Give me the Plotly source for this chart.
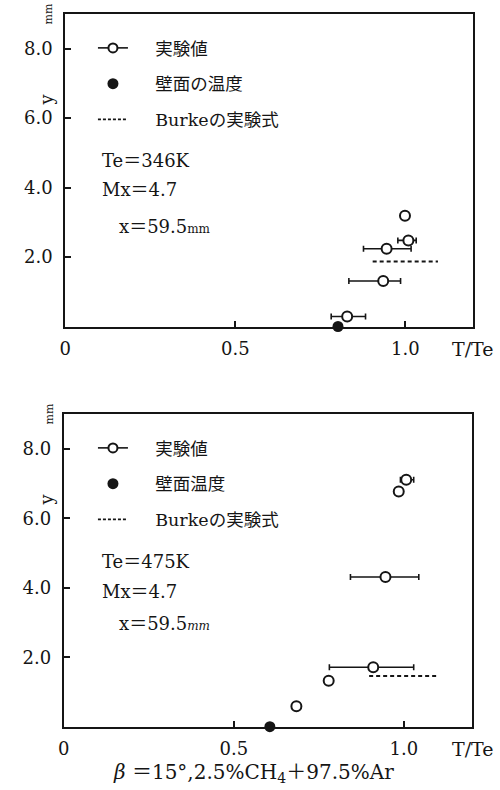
import plotly.graph_objects as go

# ---------------- data ----------------
# top panel (Te = 346K)
top_x = [0.829, 0.935, 0.945, 1.009, 0.999]
top_y = [0.29, 1.31, 2.24, 2.48, 3.19]
top_lo = [0.782, 0.834, 0.877, 0.978, None]
top_hi = [0.883, 0.986, 1.017, 1.032, None]
top_wall_x = [0.802]
top_wall_y = [0.0]
top_burke_x = [0.904, 1.096]
top_burke_y = [1.87, 1.87]

# bottom panel (Te = 475K)
bot_x = [0.684, 0.779, 0.910, 0.946, 0.985, 1.007]
bot_y = [0.59, 1.32, 1.71, 4.31, 6.77, 7.11]
bot_lo = [None, None, 0.781, 0.843, None, 0.990]
bot_hi = [None, None, 1.029, 1.044, None, 1.029]
bot_wall_x = [0.606]
bot_wall_y = [0.0]
bot_burke_x = [0.898, 1.102]
bot_burke_y = [1.46, 1.46]

x_tickvals = [0, 0.5, 1.0]
x_ticktext = ["0", "0.5", "1.0"]
y_tickvals = [2, 4, 6, 8]
y_ticktext = ["2.0", "4.0", "6.0", "8.0"]

FONT = "DejaVu Serif, Noto Sans CJK JP, serif"
INK = "#151515"
PAD = "&nbsp;" * 4


def errs(xs, lo, hi):
    plus = [None if h is None else h - x for x, h in zip(xs, hi)]
    minus = [None if l is None else x - l for x, l in zip(xs, lo)]
    return plus, minus


fig = go.Figure()


def add_panel(xs, ys, lo, hi, wx, wy, bx, by, xa, ya, legend, wall_name):
    plus, minus = errs(xs, lo, hi)
    fig.add_trace(go.Scatter(
        x=xs, y=ys, mode="markers", xaxis=xa, yaxis=ya, showlegend=False,
        marker=dict(symbol="circle", size=10, color="white",
                    line=dict(color=INK, width=2)),
        error_x=dict(type="data", array=plus, arrayminus=minus, symmetric=False,
                     color=INK, thickness=1.6, width=3),
        cliponaxis=False,
    ))
    fig.add_trace(go.Scatter(
        x=wx, y=wy, mode="markers", xaxis=xa, yaxis=ya, showlegend=False,
        marker=dict(symbol="circle", size=11, color=INK), cliponaxis=False,
    ))
    fig.add_trace(go.Scatter(
        x=bx, y=by, mode="lines", xaxis=xa, yaxis=ya, showlegend=False,
        line=dict(color=INK, width=2, dash="4px,3px"),
    ))
    # legend entries
    fig.add_trace(go.Scatter(
        x=[None], y=[None], mode="lines+markers", xaxis=xa, yaxis=ya,
        name=PAD + "実験値", legend=legend, legendgroup=legend + "a",
        line=dict(color=INK, width=1.6),
        marker=dict(symbol="circle", size=9, color="white",
                    line=dict(color=INK, width=2)),
    ))
    fig.add_trace(go.Scatter(
        x=[None], y=[None], mode="markers", xaxis=xa, yaxis=ya,
        name=PAD + wall_name, legend=legend, legendgroup=legend + "b",
        marker=dict(symbol="circle", size=11, color=INK),
    ))
    fig.add_trace(go.Scatter(
        x=[None], y=[None], mode="lines", xaxis=xa, yaxis=ya,
        name=PAD + "Burkeの実験式", legend=legend, legendgroup=legend + "c",
        line=dict(color=INK, width=1.6, dash="3px,2px"),
    ))


add_panel(top_x, top_y, top_lo, top_hi, top_wall_x, top_wall_y,
          top_burke_x, top_burke_y, "x", "y", "legend", "壁面の温度")
add_panel(bot_x, bot_y, bot_lo, bot_hi, bot_wall_x, bot_wall_y,
          bot_burke_x, bot_burke_y, "x2", "y2", "legend2", "壁面温度")

axis_common = dict(showline=True, linecolor=INK, linewidth=2, mirror=True,
                   showgrid=False, zeroline=False, ticks="inside", ticklen=6,
                   tickwidth=2, tickcolor=INK,
                   tickfont=dict(family=FONT, size=18, color=INK))

fig.update_layout(
    width=500, height=790, margin=dict(l=0, r=0, t=0, b=0),
    paper_bgcolor="white", plot_bgcolor="white",
    font=dict(family=FONT, color=INK),
    xaxis=dict(domain=[0.12, 0.946], range=[0, 1.2], anchor="y",
               tickvals=x_tickvals, ticktext=x_ticktext, ticklabelstandoff=5,
               **axis_common),
    yaxis=dict(domain=[0.5867, 0.9823], range=[0, 9], anchor="x",
               tickvals=y_tickvals, ticktext=y_ticktext, ticklabelstandoff=7,
               **axis_common),
    xaxis2=dict(domain=[0.117, 0.943], range=[0, 1.2], anchor="y2",
                tickvals=x_tickvals, ticktext=x_ticktext, ticklabelstandoff=5,
                **axis_common),
    yaxis2=dict(domain=[0.0801, 0.4759], range=[0, 9], anchor="x2",
                tickvals=y_tickvals, ticktext=y_ticktext, ticklabelstandoff=7,
                **axis_common),
    legend=dict(x=88 / 500, y=1 - 30 / 790, xanchor="left", yanchor="top",
                bgcolor="rgba(0,0,0,0)", traceorder="grouped",
                tracegroupgap=10, font=dict(family=FONT, size=17.5, color=INK)),
    legend2=dict(x=88 / 500, y=1 - 430 / 790, xanchor="left", yanchor="top",
                 bgcolor="rgba(0,0,0,0)", traceorder="grouped",
                 tracegroupgap=10, font=dict(family=FONT, size=17.5, color=INK)),
)

annots = [
    # top panel texts
    dict(x=95, y=161, text="Te＝346K"),
    dict(x=95, y=190, text="Mx＝4.7"),
    dict(x=112, y=227, text="x＝59.5<span style='font-size:12px'>mm</span>"),
    # bottom panel texts
    dict(x=95, y=561, text="Te＝475K"),
    dict(x=95, y=591, text="Mx＝4.7"),
    dict(x=112, y=623, text="x＝59.5<span style='font-size:12px'><i>mm</i></span>"),
]
for a in annots:
    fig.add_annotation(x=a["x"] / 500, y=1 - a["y"] / 790, xref="paper", yref="paper",
                       text=a["text"], showarrow=False, xanchor="left", yanchor="middle",
                       font=dict(family=FONT, size=18, color=INK))

for yy in (0, 400):
    fig.add_annotation(x=473 / 500, y=1 - (349 + yy) / 790, xref="paper", yref="paper",
                       text="T/Te", showarrow=False, xanchor="center", yanchor="middle",
                       font=dict(family=FONT, size=19, color=INK))
    fig.add_annotation(x=40 / 500, y=1 - (100 + yy) / 790, xref="paper", yref="paper",
                       text="y", showarrow=False, textangle=-90,
                       xanchor="center", yanchor="middle",
                       font=dict(family=FONT, size=18, color=INK))
    fig.add_annotation(x=44 / 500, y=1 - (14 + yy) / 790, xref="paper", yref="paper",
                       text="mm", showarrow=False, textangle=-90,
                       xanchor="center", yanchor="middle",
                       font=dict(family=FONT, size=11, color=INK))

fig.add_annotation(x=250 / 500, y=1 - 773 / 790, xref="paper", yref="paper",
                   text="<i>β</i> ＝15°,2.5%CH<sub>4</sub>＋97.5%Ar", showarrow=False,
                   xanchor="center", yanchor="middle",
                   font=dict(family=FONT, size=20, color=INK))

fig.write_html("out.html")
